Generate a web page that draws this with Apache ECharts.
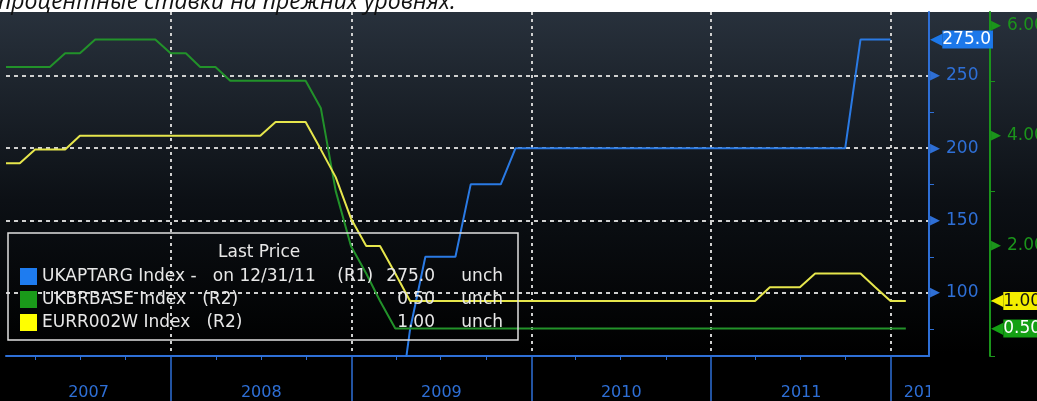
<!DOCTYPE html>
<html>
<head>
<meta charset="utf-8">
<script src="https://cdn.jsdelivr.net/npm/echarts@6/dist/echarts.min.js"></script>
<style>
  html, body { margin: 0; padding: 0; background: #fff; }
  #chart { width: 1037px; height: 401px; }
</style>
</head>
<body>
<div id="chart"></div>
<script>
// monthly samples (month end)
const months = [
  '2007-01','2007-02','2007-03','2007-04','2007-05','2007-06','2007-07','2007-08','2007-09','2007-10','2007-11','2007-12',
  '2008-01','2008-02','2008-03','2008-04','2008-05','2008-06','2008-07','2008-08','2008-09','2008-10','2008-11','2008-12',
  '2009-01','2009-02','2009-03','2009-04','2009-05','2009-06','2009-07','2009-08','2009-09','2009-10','2009-11','2009-12',
  '2010-01','2010-02','2010-03','2010-04','2010-05','2010-06','2010-07','2010-08','2010-09','2010-10','2010-11','2010-12',
  '2011-01','2011-02','2011-03','2011-04','2011-05','2011-06','2011-07','2011-08','2011-09','2011-10','2011-11','2011-12',
  '2012-01'
];

// UKAPTARG Index (R1)
const ukApf = [
  null, null, null, null, null, null, null, null, null, null, null, null,
  null, null, null, null, null, null, null, null, null, null, null, null,
  null, null, 0, 75, 125, 125, 125, 175, 175, 175, 200, 200,
  200, 200, 200, 200, 200, 200, 200, 200, 200, 200, 200, 200,
  200, 200, 200, 200, 200, 200, 200, 200, 200, 275, 275, 275,
  null
];

// UKBRBASE Index (R2)
const ukBase = [
  5.25, 5.25, 5.25, 5.25, 5.5, 5.5, 5.75, 5.75, 5.75, 5.75, 5.75, 5.5,
  5.5, 5.25, 5.25, 5.0, 5.0, 5.0, 5.0, 5.0, 5.0, 4.5, 3.0, 2.0,
  1.5, 1.0, 0.5, 0.5, 0.5, 0.5, 0.5, 0.5, 0.5, 0.5, 0.5, 0.5,
  0.5, 0.5, 0.5, 0.5, 0.5, 0.5, 0.5, 0.5, 0.5, 0.5, 0.5, 0.5,
  0.5, 0.5, 0.5, 0.5, 0.5, 0.5, 0.5, 0.5, 0.5, 0.5, 0.5, 0.5,
  0.5
];

// EURR002W Index (R2)
const eurRate = [
  3.5, 3.5, 3.75, 3.75, 3.75, 4.0, 4.0, 4.0, 4.0, 4.0, 4.0, 4.0,
  4.0, 4.0, 4.0, 4.0, 4.0, 4.0, 4.25, 4.25, 4.25, 3.75, 3.25, 2.5,
  2.0, 2.0, 1.5, 1.0, 1.0, 1.0, 1.0, 1.0, 1.0, 1.0, 1.0, 1.0,
  1.0, 1.0, 1.0, 1.0, 1.0, 1.0, 1.0, 1.0, 1.0, 1.0, 1.0, 1.0,
  1.0, 1.0, 1.0, 1.25, 1.25, 1.25, 1.5, 1.5, 1.5, 1.5, 1.25, 1.0,
  1.0
];

const years = [2007, 2008, 2009, 2010, 2011, 2012];
const r1Ticks = [100, 150, 200, 250];
const r1Minor = [75, 125, 175, 225];
const r2Ticks = [2, 4, 6];
const r2Minor = [0, 1, 3, 5];

const caption = 'процентные ставки на прежних уровнях.';
const legendText = {
  'UKAPTARG Index': 'UKAPTARG Index -   on 12/31/11    (R1)',
  'UKBRBASE Index': 'UKBRBASE Index   (R2)',
  'EURR002W Index': 'EURR002W Index   (R2)'
};

const FONT = 'DejaVu Sans';
const BLUE = '#2e6fd6';
const GREEN = '#1b941b';
const GRID_LINE = '#cfcfcf';
const LEGEND_TEXT = '#e8e8e8';

function monthEnd(ym) {
  const [y, m] = ym.split('-').map(Number);
  return Date.UTC(y, m, 0);
}
function lastOf(arr) {
  const vals = arr.filter(v => v != null);
  return vals[vals.length - 1];
}

// x is a plain value axis in UTC milliseconds
const xMin = Date.UTC(2007, 0, 31);
const xMax = Date.UTC(2012, 2, 18);
const DAY = 86400000;

const yearTicks = [];
const quarterTicks = [];
const yearLabelAt = [];
years.forEach(y => {
  [0, 3, 6, 9].forEach(m => {
    const t = Date.UTC(y, m, 1);
    if (t <= xMin || t >= xMax) return;
    (m === 0 ? yearTicks : quarterTicks).push(t);
  });
  const from = Math.max(Date.UTC(y, 0, 1), xMin);
  const to = Math.min(Date.UTC(y + 1, 0, 1), xMax);
  yearLabelAt.push((from + to) / 2);
});

const lastApf = lastOf(ukApf);
const lastBase = lastOf(ukBase);
const lastEur = lastOf(eurRate);
const lastValue = {
  'UKAPTARG Index': lastApf.toFixed(1),
  'UKBRBASE Index': lastBase.toFixed(2),
  'EURR002W Index': lastEur.toFixed(2)
};

const pairs = arr => months.map((m, i) => [monthEnd(m), arr[i]]);
const legendFont = { color: LEGEND_TEXT, fontFamily: FONT, fontSize: 17 };

const chart = echarts.init(document.getElementById('chart'));

chart.setOption({
  animation: false,
  backgroundColor: {
    type: 'linear', x: 0, y: 0, x2: 0, y2: 1,
    colorStops: [
      { offset: 0, color: '#ffffff' },
      { offset: 0.0299, color: '#ffffff' },
      { offset: 0.03, color: '#28313c' },
      { offset: 0.5, color: '#0c1015' },
      { offset: 0.88, color: '#000000' },
      { offset: 1, color: '#000000' }
    ]
  },
  title: [
    {
      text: caption, left: -2, top: -9, padding: 0,
      textStyle: { fontFamily: 'Open Sans', fontStyle: 'italic', fontWeight: 'normal', fontSize: 23, color: '#111' }
    },
    {
      text: 'Last Price', left: 218, top: 244, padding: 0,
      textStyle: { fontFamily: FONT, fontWeight: 'normal', fontSize: 17, color: LEGEND_TEXT }
    }
  ],
  grid: { left: 6, right: 108, top: 12, bottom: 45, outerBoundsMode: 'none' },
  legend: {
    orient: 'vertical', left: 8, top: 233,
    padding: [35, 15, 9, 12],
    itemWidth: 17, itemHeight: 17, itemGap: 6,
    icon: 'rect', selectedMode: false,
    borderColor: '#e0e0e0', borderWidth: 1.5,
    data: ['UKAPTARG Index', 'UKBRBASE Index', 'EURR002W Index'],
    formatter: name => `{n|${legendText[name]}}{v|${lastValue[name]}}{u|unch}`,
    textStyle: {
      ...legendFont, lineHeight: 17,
      rich: {
        n: { ...legendFont, width: 333, align: 'left' },
        v: { ...legendFont, width: 60, align: 'right' },
        u: { ...legendFont, width: 68, align: 'right' }
      }
    }
  },
  xAxis: [
    {
      type: 'value', min: xMin, max: xMax, position: 'bottom',
      axisLine: { lineStyle: { color: BLUE, width: 2 } },
      axisTick: { show: true, length: 4, customValues: quarterTicks, lineStyle: { color: BLUE } },
      splitLine: { show: false },
      axisLabel: {
        customValues: yearLabelAt, margin: 29,
        color: BLUE, fontFamily: FONT, fontSize: 16,
        formatter: v => {
          const y = new Date(v).getUTCFullYear();
          const span = (Math.min(Date.UTC(y + 1, 0, 1), xMax) - Math.max(Date.UTC(y, 0, 1), xMin)) / DAY;
          return span < 120 ? `{cut|${y}}` : String(y);
        },
        rich: { cut: { color: BLUE, fontFamily: FONT, fontSize: 16, padding: [0, 0, 0, 28] } }
      }
    },
    {
      type: 'value', min: xMin, max: xMax, position: 'bottom',
      axisLine: { show: false },
      axisTick: { show: true, length: 45, customValues: yearTicks, lineStyle: { color: BLUE, width: 1.5 } },
      axisLabel: { show: false },
      splitLine: { show: true, lineStyle: { color: GRID_LINE, type: [3, 4], width: 2 } }
    }
  ],
  yAxis: [
    {
      type: 'value', position: 'right', offset: 0, min: 56.5, max: 294,
      axisLine: { show: true, lineStyle: { color: BLUE, width: 2 } },
      axisTick: { show: false, customValues: r1Ticks },
      splitLine: { show: true, lineStyle: { color: GRID_LINE, type: [4, 4], width: 2 } },
      axisLabel: {
        customValues: r1Ticks.concat([lastApf]), margin: 1,
        formatter: v => v === lastApf
          ? `{pa|◀}{tag|${v.toFixed(1)}}`
          : `{tri|▶}{num|${v}}`,
        rich: {
          tri: { color: BLUE, fontFamily: FONT, fontSize: 13, padding: [0, 6, 0, 0] },
          num: { color: BLUE, fontFamily: FONT, fontSize: 17 },
          pa: { color: '#1c78ea', fontFamily: FONT, fontSize: 16 },
          tag: { color: '#fff', backgroundColor: '#1c78ea', fontFamily: FONT, fontSize: 17, padding: [1, 2, 0, 0] }
        }
      }
    },
    {
      type: 'value', position: 'right', offset: 61, min: 0, max: 6.25,
      axisLine: { show: true, lineStyle: { color: GREEN, width: 2 } },
      axisTick: { show: false, customValues: r2Ticks },
      splitLine: { show: false },
      axisLabel: {
        customValues: r2Ticks.concat([lastEur, lastBase]), margin: 1,
        formatter: v => {
          if (v === lastEur) return `{ya|◀}{ytag|${v.toFixed(2)}}`;
          if (v === lastBase) return `{ga|◀}{gtag|${v.toFixed(2)}}`;
          return `{tri|▶}{num|${v.toFixed(2)}}`;
        },
        rich: {
          tri: { color: GREEN, fontFamily: FONT, fontSize: 13, padding: [0, 6, 0, 0] },
          num: { color: GREEN, fontFamily: FONT, fontSize: 17 },
          ya: { color: '#f4ee00', fontFamily: FONT, fontSize: 16 },
          ytag: { color: '#111', backgroundColor: '#f4ee00', fontFamily: FONT, fontSize: 17, padding: [1, 2, 0, 0] },
          ga: { color: '#14a014', fontFamily: FONT, fontSize: 16 },
          gtag: { color: '#fff', backgroundColor: '#14a014', fontFamily: FONT, fontSize: 17, padding: [1, 2, 0, 0] }
        }
      }
    },
    {
      type: 'value', position: 'right', offset: 0, min: 56.5, max: 294,
      axisLine: { show: false },
      axisTick: { show: true, length: 5, customValues: r1Minor, lineStyle: { color: BLUE } },
      axisLabel: { show: false },
      splitLine: { show: false }
    },
    {
      type: 'value', position: 'right', offset: 61, min: 0, max: 6.25,
      axisLine: { show: false },
      axisTick: { show: true, length: 5, customValues: r2Minor, lineStyle: { color: GREEN } },
      axisLabel: { show: false },
      splitLine: { show: false }
    }
  ],
  series: [
    {
      name: 'UKAPTARG Index', type: 'line', yAxisIndex: 0,
      data: pairs(ukApf), showSymbol: false, symbol: 'none',
      itemStyle: { color: '#1e7cf0' }, lineStyle: { color: '#2a7ae4', width: 2 }
    },
    {
      name: 'UKBRBASE Index', type: 'line', yAxisIndex: 1,
      data: pairs(ukBase), showSymbol: false, symbol: 'none',
      itemStyle: { color: '#1a9a1a' }, lineStyle: { color: '#22922a', width: 2 }
    },
    {
      name: 'EURR002W Index', type: 'line', yAxisIndex: 1,
      data: pairs(eurRate), showSymbol: false, symbol: 'none',
      itemStyle: { color: '#ffff00' }, lineStyle: { color: '#e6e64c', width: 2 }
    }
  ],
  // mask the part of the last year label that runs past the plot edge
  graphic: [
    { type: 'rect', z: 100, shape: { x: 930, y: 358, width: 107, height: 43 }, style: { fill: '#000' } }
  ]
});
</script>
</body>
</html>
